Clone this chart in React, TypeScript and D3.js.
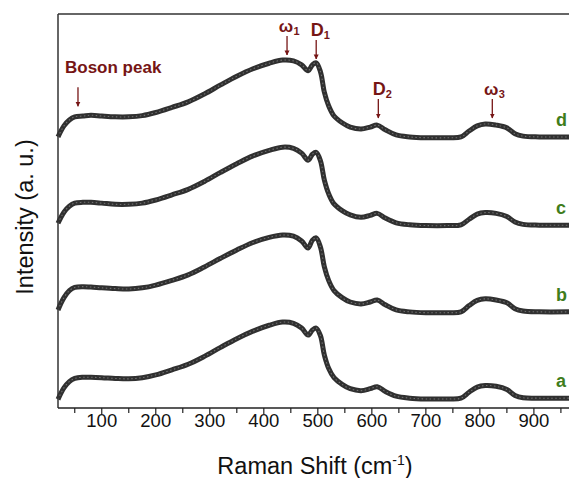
import React from 'react';
import * as d3 from 'd3';

// Raman shift positions (cm^-1) at which the spectra were read
const shifts = [19, 30, 40, 50, 65, 80, 100, 125, 150, 175, 200, 230, 260, 290, 320, 350, 380, 410, 435, 455, 470, 482, 490, 497, 505, 512, 520, 530, 545, 560, 580, 597, 610, 625, 645, 670, 700, 740, 765, 780, 795, 810, 830, 850, 865, 880, 910, 965];

// intensities (a.u.), relative to each spectrum's own baseline
const spectrumA = [-0.3, 2.6, 4.2, 5.0, 5.3, 5.3, 5.2, 5.0, 4.9, 5.2, 5.9, 7.2, 8.6, 10.6, 12.9, 15.1, 17.0, 18.5, 19.3, 19.0, 17.8, 16.0, 17.3, 17.8, 15.8, 11.0, 7.6, 5.2, 3.5, 2.4, 1.9, 2.4, 2.9, 1.7, 0.5, 0, -0.2, -0.2, 0, 1.5, 2.8, 3.2, 3.0, 2.2, 0.7, 0.1, 0, 0];
const spectrumB = [0.5, 3.6, 5.4, 6.2, 6.4, 6.3, 6.1, 5.9, 5.8, 6.1, 6.8, 8.0, 9.4, 11.4, 13.6, 15.7, 17.6, 18.9, 19.5, 19.2, 18.0, 16.2, 18.2, 18.8, 16.4, 11.5, 8.0, 5.4, 3.6, 2.5, 2.0, 2.5, 3.0, 1.8, 0.5, 0, -0.2, -0.2, 0, 1.6, 2.9, 3.3, 3.0, 2.3, 0.8, 0.2, 0, 0];
const spectrumC = [0.5, 3.3, 4.8, 5.6, 5.8, 5.8, 5.6, 5.3, 5.3, 5.6, 6.4, 7.7, 9.1, 11.1, 13.4, 15.6, 17.6, 19.0, 19.8, 19.5, 18.3, 16.5, 18.0, 18.5, 16.3, 11.5, 8.0, 5.4, 3.7, 2.6, 2.0, 2.5, 3.0, 1.8, 0.6, 0.1, -0.1, -0.1, 0.1, 1.5, 2.8, 3.2, 3.0, 2.2, 0.8, 0.2, 0, 0];
const spectrumD = [0, 2.8, 4.3, 5.1, 5.3, 5.5, 5.3, 5.1, 5.1, 5.4, 6.2, 7.5, 8.9, 10.9, 13.2, 15.4, 17.3, 18.7, 19.5, 19.3, 18.3, 16.8, 18.3, 18.8, 16.5, 11.4, 7.9, 5.3, 3.6, 2.5, 2.0, 2.5, 3.0, 1.8, 0.5, 0, -0.2, -0.2, 0, 1.5, 2.8, 3.3, 3.0, 2.3, 0.8, 0.2, 0, 0];

const seriesLabels = ['a', 'b', 'c', 'd'];
const seriesValues = [spectrumA, spectrumB, spectrumC, spectrumD];
const stackOffsets = [2.5, 24.4, 46.4, 68.8];

// peak markers: position (cm^-1) and arrow tip intensity
const peakNames = ['Boson peak', 'ω', 'D', 'D', 'ω'];
const peakSubs = ['', '1', '1', '2', '3'];
const peakShifts = [56, 443, 497, 612, 823];
const peakTips = [76.6, 89.6, 88.6, 73.6, 73.6];

const xTicks = [100, 200, 300, 400, 500, 600, 700, 800, 900];
const xMinorTicks = d3.range(50, 1000, 100);

const W = 569;
const H = 478;
const FONT = '"Liberation Sans", Arial, Helvetica, sans-serif';
const RED = '#761515';
const GREEN = '#3f7d1c';

export default function App() {
  const x = d3.scaleLinear().domain([19, 965]).range([58, 569]);
  const y = d3.scaleLinear().domain([0, 100]).range([408, 14]);

  const line = d3.line<number>()
    .x((d, i) => x(shifts[i]))
    .y(d => d)
    .curve(d3.curveCatmullRom.alpha(0.5));

  const paths = seriesValues.map((vals, s) =>
    line(vals.map(v => y(v + stackOffsets[s]))) as string
  );

  return (
    <svg width={W} height={H} style={{ position: 'fixed', left: 0, top: 0, background: '#fff' }}
      fontFamily={FONT}>
      <defs>
        <marker id="arrow" viewBox="0 0 10 10" refX="9" refY="5" markerWidth="5" markerHeight="6"
          markerUnits="userSpaceOnUse" orient="auto">
          <path d="M0,0 L10,5 L0,10 z" fill={RED} />
        </marker>
      </defs>

      {/* spectra */}
      {paths.map((p, i) => (
        <g key={seriesLabels[i]}>
          <path d={p} fill="none" stroke="#303030" strokeWidth={5} strokeLinejoin="round" />
          <path d={p} fill="none" stroke="#a8a8a8" strokeWidth={1.1} strokeDasharray="1.5 2.5" opacity={0.55} />
        </g>
      ))}

      {/* series letters */}
      {seriesLabels.map((l, i) => (
        <text key={l} x={556} y={y(stackOffsets[i] + 2.8)} fill={GREEN} fontSize={18} fontWeight="bold">{l}</text>
      ))}

      {/* frame */}
      <line x1={58} x2={W} y1={y(100)} y2={y(100)} stroke="#333" strokeWidth={1.5} />
      <line x1={58} x2={58} y1={y(100)} y2={y(0)} stroke="#333" strokeWidth={1.5} />
      <line x1={58} x2={W} y1={y(0)} y2={y(0)} stroke="#222" strokeWidth={1.5} />

      {/* x ticks */}
      {xTicks.map(t => (
        <g key={t}>
          <line x1={x(t)} x2={x(t)} y1={y(0)} y2={y(0) + 6} stroke="#222" strokeWidth={1.2} />
          <text x={x(t)} y={427} textAnchor="middle" fontSize={18.5} fill="#111">{t}</text>
        </g>
      ))}
      {xMinorTicks.map(t => (
        <line key={t} x1={x(t)} x2={x(t)} y1={y(0)} y2={y(0) + 5} stroke="#222" strokeWidth={1.2} />
      ))}

      {/* axis titles */}
      <text x={(218 + 412) / 2} y={474} textAnchor="middle" fontSize={23.5} fill="#111">
        Raman Shift (cm<tspan dy={-9} fontSize={14}>-1</tspan><tspan dy={9}>)</tspan>
      </text>
      <text transform="translate(33,217) rotate(-90)" textAnchor="middle" fontSize={23.5} fill="#111">
        Intensity (a. u.)
      </text>

      {/* peak annotations */}
      {peakNames.map((name, i) => {
        const ax = x(peakShifts[i]);
        const tip = y(peakTips[i]);
        const top = tip - 19;
        if (i === 0) {
          return (
            <g key={i}>
              <line x1={ax} x2={ax} y1={top} y2={tip} stroke={RED} strokeWidth={1.3} markerEnd="url(#arrow)" />
              <text x={ax - 13} y={top - 14} fill={RED} fontSize={17} fontWeight="bold">{name}</text>
            </g>
          );
        }
        const big = name === 'D';
        return (
          <g key={i}>
            <line x1={ax} x2={ax} y1={top} y2={tip} stroke={RED} strokeWidth={1.3} markerEnd="url(#arrow)" />
            <text x={ax + (big ? 1 : -1)} y={top - 4} textAnchor="middle" fill={RED}
              fontSize={big ? 18 : 17} fontWeight="bold">{name}</text>
            <text x={ax + (big ? 7.5 : 6.5)} y={top - 1} fill={RED} fontSize={11} fontWeight="bold">{peakSubs[i]}</text>
          </g>
        );
      })}
    </svg>
  );
}
